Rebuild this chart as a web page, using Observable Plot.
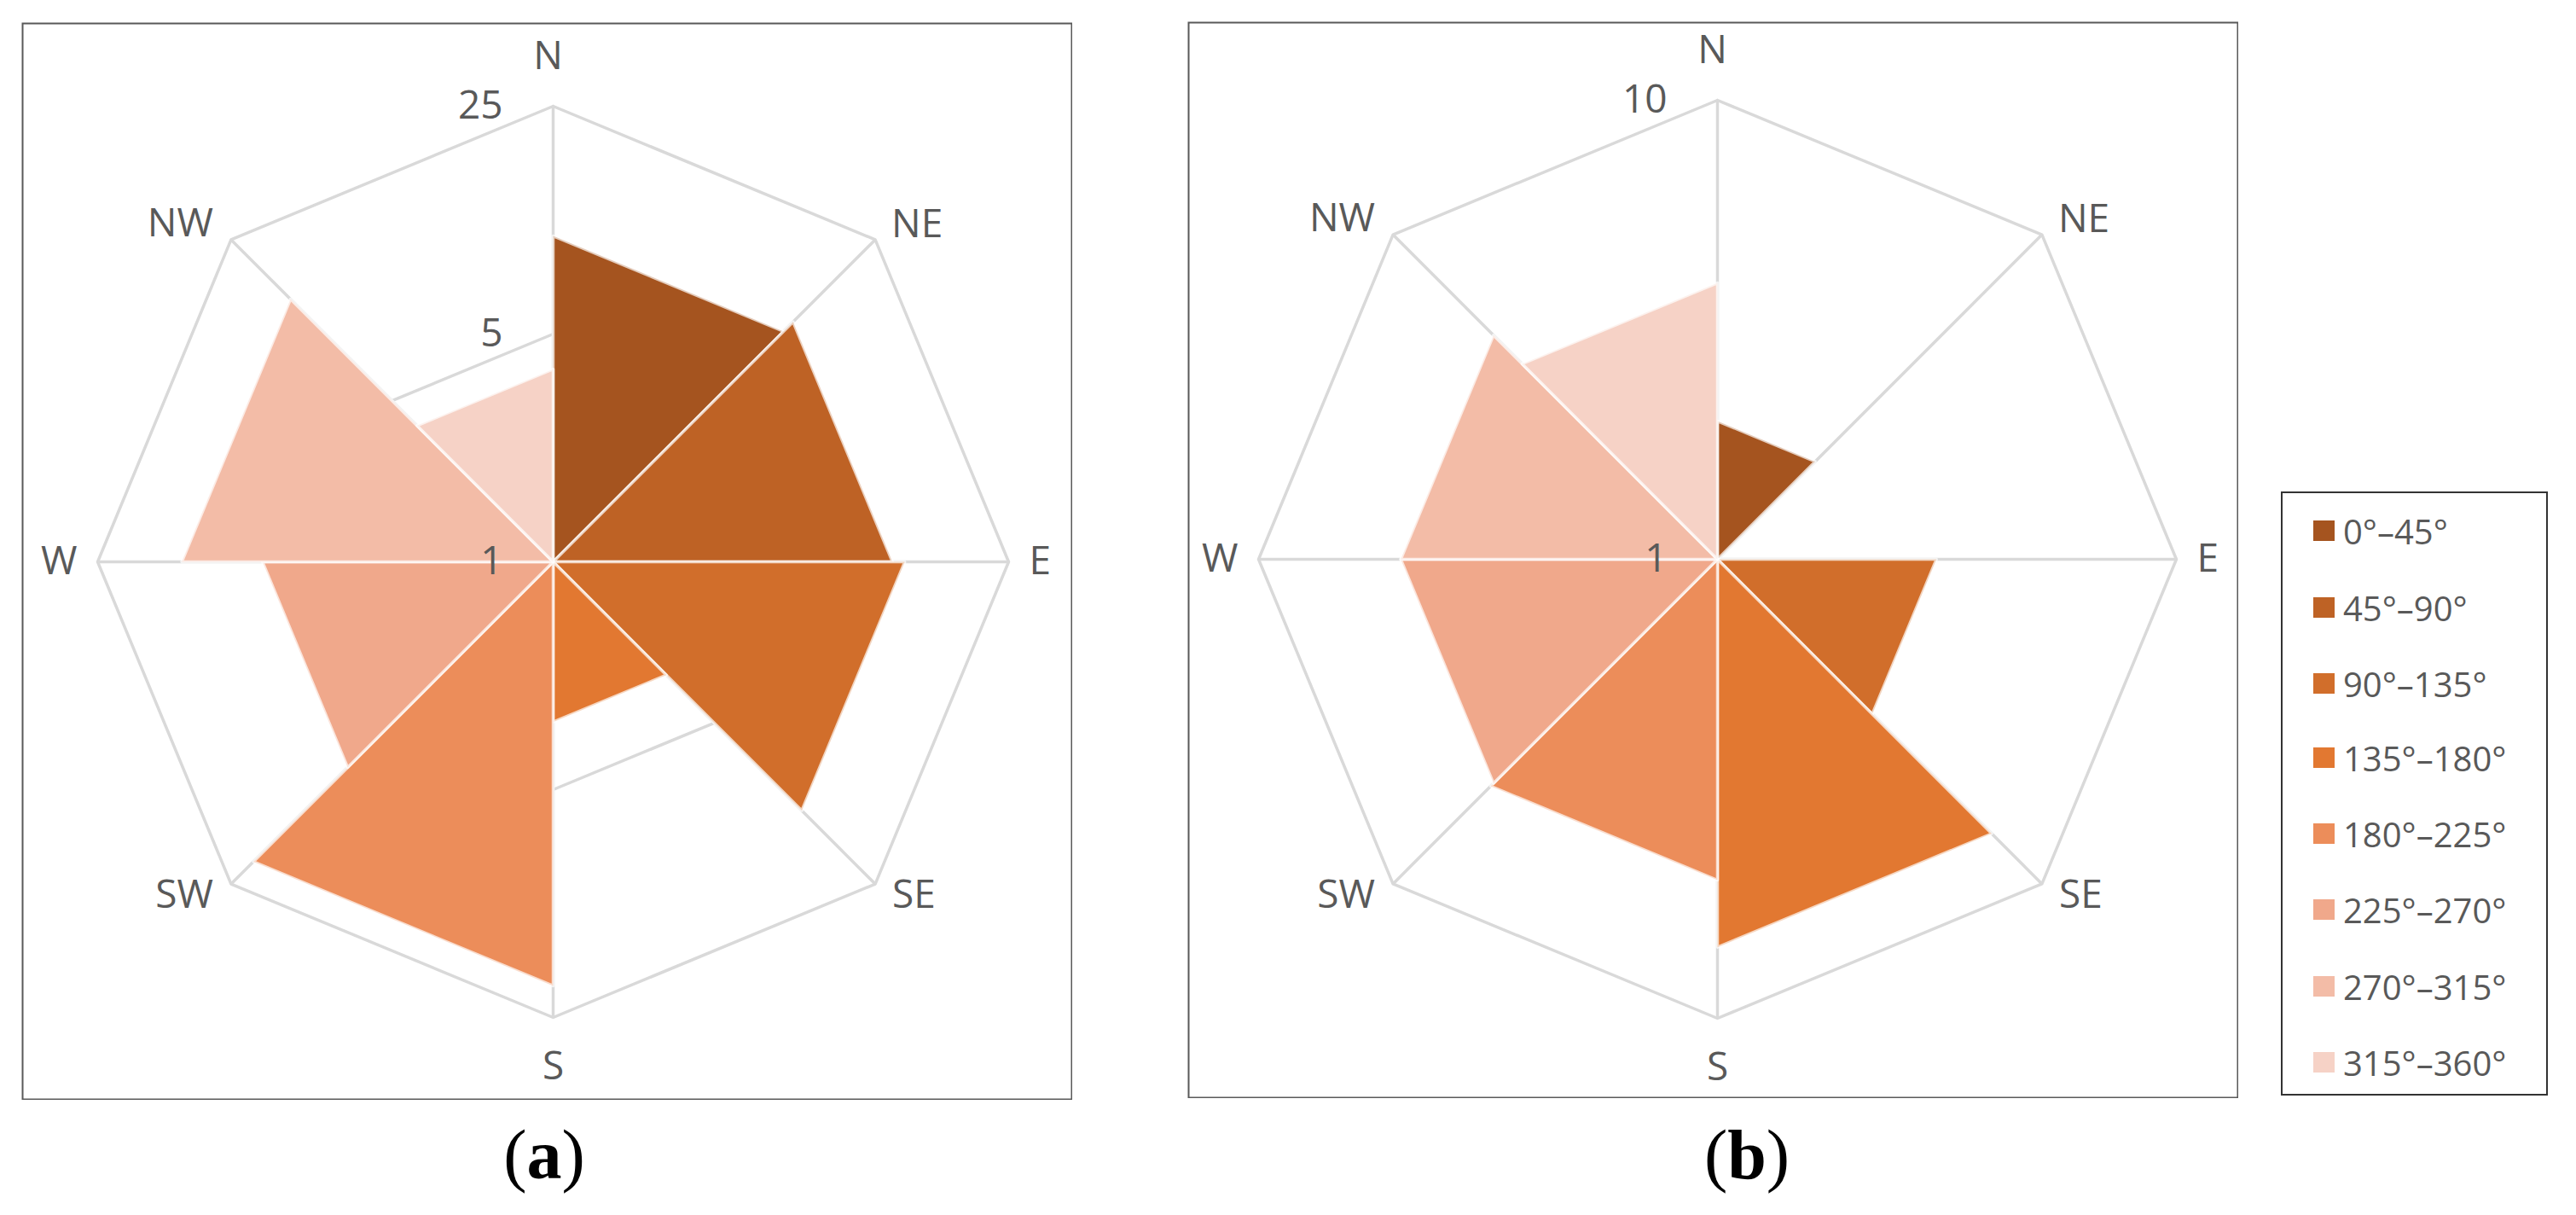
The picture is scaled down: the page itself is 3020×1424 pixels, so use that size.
<!DOCTYPE html>
<html>
<head>
<meta charset="utf-8">
<script src="https://cdn.jsdelivr.net/npm/d3@7"></script>
<script src="https://cdn.jsdelivr.net/npm/@observablehq/plot@0.6"></script>
<style>
  html, body { margin: 0; padding: 0; background: #fff; }
  body { width: 3020px; height: 1424px; position: relative; overflow: hidden; font-family: "Open Sans", sans-serif; }
  .panel { position: absolute; }
  .cap { position: absolute; font-family: "Liberation Serif", serif; font-size: 82px; color: #000; transform: translateX(-50%); line-height: 1; white-space: nowrap; }
  .cap b { font-weight: bold; }
  #legend { position: absolute; left: 2674px; top: 576px; width: 313px; height: 708px; border: 2px solid #333; box-sizing: border-box; }
  .item { position: absolute; left: 36px; height: 40px; display: flex; align-items: center; font-size: 40px; color: #595959; white-space: nowrap; }
  .sw { width: 25px; height: 24px; margin-right: 10px; flex: none; }
</style>
</head>
<body>
<div id="pa" class="panel" style="left:25px;top:26px"></div>
<div id="pb" class="panel" style="left:1392px;top:25px"></div>
<div id="legend"></div>
<div class="cap" style="left:638px;top:1313px">(<b>a</b>)</div>
<div class="cap" style="left:2048px;top:1313px">(<b>b</b>)</div>
<script>
// ---- data ----
const directions = ["N", "NE", "E", "SE", "S", "SW", "W", "NW"];
const sectors = ["0°–45°", "45°–90°", "90°–135°", "135°–180°", "180°–225°", "225°–270°", "270°–315°", "315°–360°"];
const colors = ["#A5541F", "#BE6225", "#D16E2B", "#E27831", "#EC8D5A", "#F0A88B", "#F3BCA7", "#F6D2C6"];
const valuesA = [10, 11, 12, 3.1, 20, 7.8, 13.8, 3.9];
const valuesB = [2, 1, 3, 7, 5, 4.9, 4.9, 4];
const ticksA = [1, 5, 25];
const ticksB = [1, 10];

// label placement (px offsets from each outer vertex) and anchors
const labelPlace = {
  N: [-6, 58, "middle"], NE: [19, 18, "start"], E: [24, 0, "start"], SE: [20, -13, "start"],
  S: [0, -58, "middle"], SW: [-21, -13, "end"], W: [-24, 0, "end"], NW: [-21, 19, "end"]
};

function panel({values, ticks, W, H, cx, cy, R}) {
  const max = ticks[ticks.length - 1];
  const rs = d3.scaleLog().domain([1, max]).range([0, R]);
  const polar = (deg, r) => ({x: r * Math.sin(deg * Math.PI / 180), y: r * Math.cos(deg * Math.PI / 180)});

  // sector polygons
  const polys = [];
  sectors.forEach((s, i) => {
    const r = rs(values[i]);
    polys.push({sector: s, x: 0, y: 0});
    polys.push({sector: s, ...polar(45 * i, r)});
    polys.push({sector: s, ...polar(45 * (i + 1), r)});
  });

  // grid octagons
  const grid = [];
  ticks.filter(t => t > 1).forEach(t => {
    for (let k = 0; k <= 8; k++) grid.push({tick: t, ...polar(45 * k, rs(t))});
  });

  const spokes = directions.map((d, k) => ({d, ...polar(45 * k, rs(max))}));
  const labels = spokes.map(s => {
    const [dx, dy, anchor] = labelPlace[s.d];
    return {d: s.d, x: s.x + dx, y: s.y + dy, anchor};
  });
  const tickLabels = ticks.map(t => ({t, x: -59, y: rs(t)}));

  return Plot.plot({
    width: W, height: H,
    marginTop: 0, marginRight: 0, marginBottom: 0, marginLeft: 0,
    x: {domain: [-cx, W - cx], range: [0, W], axis: null},
    y: {domain: [-(H - cy), cy], range: [H, 0], axis: null},
    color: {domain: sectors, range: colors},
    style: {fontFamily: "Open Sans", background: "white"},
    marks: [
      Plot.frame({stroke: "#595959", strokeWidth: 2, inset: 1}),
      Plot.line(grid, {x: "x", y: "y", z: "tick", stroke: "#d9d9d9", strokeWidth: 3.5}),
      Plot.link(spokes, {x1: 0, y1: 0, x2: "x", y2: "y", stroke: "#d9d9d9", strokeWidth: 3.5}),
      Plot.line(polys, {x: "x", y: "y", z: "sector", fill: "sector", stroke: "white", strokeOpacity: 0.7, strokeWidth: 3.5, curve: "linear-closed"}),
      ...["start", "middle", "end"].map(a =>
        Plot.text(labels.filter(l => l.anchor === a), {x: "x", y: "y", text: "d", textAnchor: a, fontSize: 46, fill: "#595959"})),
      Plot.text(tickLabels, {x: "x", y: "y", text: d => String(d.t), textAnchor: "end", fontSize: 46, fill: "#595959"})
    ]
  });
}

document.getElementById("pa").appendChild(panel({values: valuesA, ticks: ticksA, W: 1232, H: 1263, cx: 623, cy: 632, R: 534}));
document.getElementById("pb").appendChild(panel({values: valuesB, ticks: ticksB, W: 1232, H: 1262, cx: 621, cy: 630, R: 538}));

// legend
const legend = document.getElementById("legend");
const rowCenters = [622, 712, 801, 888, 977, 1066, 1156, 1245];
sectors.forEach((s, i) => {
  const it = document.createElement("div");
  it.className = "item";
  it.style.top = (rowCenters[i] - 576 - 2 - 20) + "px";
  const sw = document.createElement("div");
  sw.className = "sw";
  sw.style.background = colors[i];
  it.appendChild(sw);
  it.appendChild(document.createTextNode(s));
  legend.appendChild(it);
});
</script>
</body>
</html>
